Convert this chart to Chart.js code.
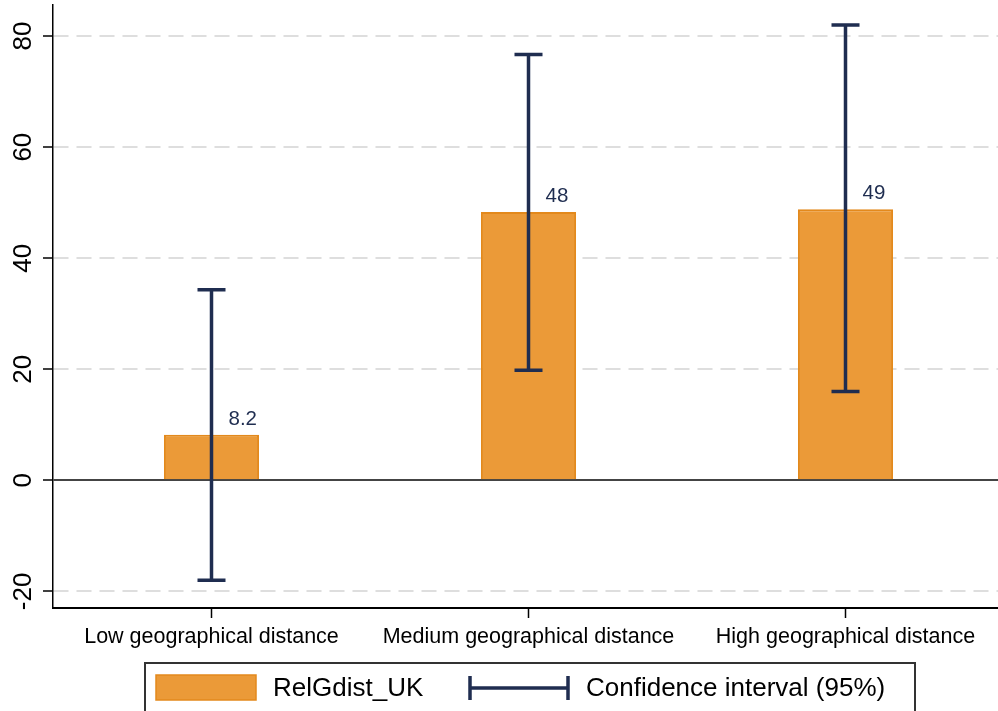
<!DOCTYPE html>
<html>
<head>
<meta charset="utf-8">
<script src="https://cdn.jsdelivr.net/npm/chart.js@4/dist/chart.umd.min.js"></script>
<style>
  html, body { margin: 0; padding: 0; background: #fff; overflow: hidden; }
  /* the plot runs a few px past the right edge, as in the original */
  #wrap { width: 998px; height: 711px; overflow: hidden; }
</style>
</head>
<body>
<div id="wrap"><canvas id="chart" width="1004" height="711"></canvas></div>
<script>
// data
const categories = ['Low geographical distance', 'Medium geographical distance', 'High geographical distance'];
const relGdistUK = [8.2, 48.3, 48.8];
const ciLower = [-18.0, 19.8, 16.0];
const ciUpper = [34.3, 76.7, 82.0];
const yTicks = [-20, 0, 20, 40, 60, 80];

const FONT = "'Liberation Sans', Arial, sans-serif";
const NAVY = '#1f2d50';
const BAR_FILL = '#eb9a38';
const BAR_EDGE = '#e3891c';

// error bars + value labels
const errorBars = {
    id: 'errorBars',
    afterDatasetsDraw(chart) {
        const ctx = chart.ctx;
        const y = chart.scales.y;
        const meta = chart.getDatasetMeta(0);
        ctx.save();
        meta.data.forEach((bar, i) => {
            const top = y.getPixelForValue(ciUpper[i]);
            const bot = y.getPixelForValue(ciLower[i]);
            ctx.strokeStyle = NAVY;
            ctx.lineWidth = 3.5;
            ctx.beginPath();
            ctx.moveTo(bar.x, top); ctx.lineTo(bar.x, bot);
            ctx.moveTo(bar.x - 14, top); ctx.lineTo(bar.x + 14, top);
            ctx.moveTo(bar.x - 14, bot); ctx.lineTo(bar.x + 14, bot);
            ctx.stroke();

            // value label, Stata %9.2g style
            ctx.fillStyle = NAVY;
            ctx.font = '20.5px ' + FONT;
            ctx.textAlign = 'left';
            ctx.textBaseline = 'alphabetic';
            ctx.fillText(String(Number(relGdistUK[i].toPrecision(2))), bar.x + 17, bar.y - 10);
        });
        ctx.restore();
    }
};

// rotated y labels and the boxed legend
const extras = {
    id: 'extras',
    afterDraw(chart) {
        const ctx = chart.ctx;
        const y = chart.scales.y;
        ctx.save();
        ctx.fillStyle = '#000';
        ctx.font = '26px ' + FONT;
        ctx.textAlign = 'center';
        ctx.textBaseline = 'middle';
        yTicks.forEach(v => {
            ctx.save();
            ctx.translate(24, y.getPixelForValue(v));
            ctx.rotate(-Math.PI / 2);
            ctx.fillText(String(v), 0, 0);
            ctx.restore();
        });

        // legend box
        ctx.strokeStyle = '#333';
        ctx.lineWidth = 2;
        ctx.strokeRect(145, 663, 770, 60);

        ctx.fillStyle = BAR_FILL;
        ctx.fillRect(156, 675, 100, 25);
        ctx.strokeStyle = BAR_EDGE;
        ctx.lineWidth = 1.5;
        ctx.strokeRect(156, 675, 100, 25);

        ctx.strokeStyle = NAVY;
        ctx.lineWidth = 3.5;
        ctx.beginPath();
        ctx.moveTo(469, 688); ctx.lineTo(569, 688);
        ctx.moveTo(470, 676); ctx.lineTo(470, 700);
        ctx.moveTo(568, 676); ctx.lineTo(568, 700);
        ctx.stroke();

        ctx.fillStyle = '#000';
        ctx.font = '26px ' + FONT;
        ctx.textAlign = 'left';
        ctx.textBaseline = 'alphabetic';
        ctx.fillText('RelGdist_UK', 273, 696);
        ctx.fillText('Confidence interval (95%)', 586, 696);
        ctx.restore();
    }
};

new Chart(document.getElementById('chart'), {
    type: 'bar',
    data: {
        labels: categories,
        datasets: [{
            label: 'RelGdist_UK',
            data: relGdistUK,
            backgroundColor: BAR_FILL,
            borderColor: BAR_EDGE,
            borderWidth: 2,
            categoryPercentage: 1.0,
            barPercentage: 0.3
        }]
    },
    options: {
        responsive: false,
        animation: false,
        layout: { padding: { top: 5, right: 0, left: 0, bottom: 0 } },
        plugins: {
            legend: { display: false },
            tooltip: { enabled: false }
        },
        scales: {
            x: {
                afterFit: s => { s.height = 103; },
                grid: {
                    display: true,
                    drawOnChartArea: false,
                    drawTicks: true,
                    tickLength: 10,
                    offset: false,
                    tickColor: '#000',
                    tickWidth: 1.5
                },
                border: { display: true, color: '#000', width: 2 },
                ticks: {
                    color: '#000',
                    font: { family: FONT, size: 21.5 },
                    padding: 6,
                    maxRotation: 0
                }
            },
            y: {
                min: -23,
                max: 85.6,
                afterFit: s => { s.width = 53; },
                afterBuildTicks: s => { s.ticks = yTicks.map(v => ({ value: v })); },
                ticks: { display: false },
                grid: {
                    color: c => (c.tick && c.tick.value === 0) ? '#444' : '#dedede',
                    lineWidth: 2,
                    tickLength: 10,
                    tickColor: '#000',
                    tickWidth: 1.5
                },
                border: {
                    display: true,
                    color: '#000',
                    width: 1.5,
                    dash: c => (c.tick && c.tick.value === 0) ? [] : [15, 8]
                }
            }
        }
    },
    plugins: [errorBars, extras]
});
</script>
</body>
</html>
